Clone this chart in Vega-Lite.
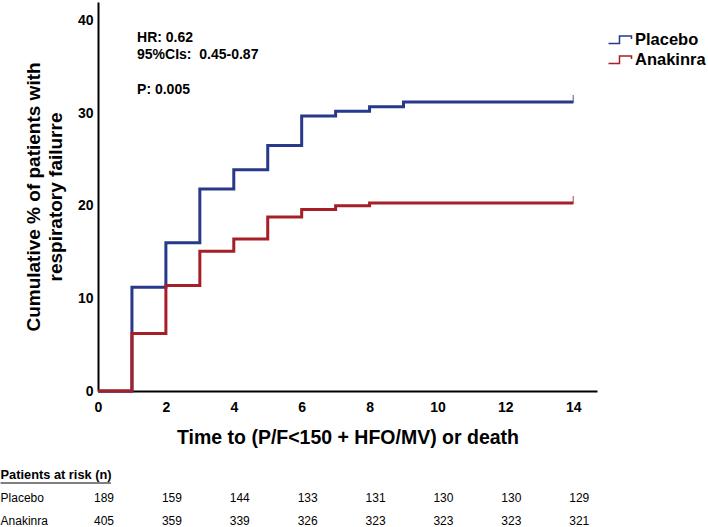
{
  "$schema": "https://vega.github.io/schema/vega-lite/v6.json",
  "padding": {"left": 0, "top": 2, "right": 0, "bottom": 0},
  "config": {
    "font": "Liberation Sans",
    "view": {"stroke": null},
    "concat": {"spacing": 22}
  },
  "datasets": {
    "km": [
      {"arm": "Placebo", "day": 0, "pct": 0},
      {"arm": "Placebo", "day": 1, "pct": 11.2},
      {"arm": "Placebo", "day": 2, "pct": 16.0},
      {"arm": "Placebo", "day": 3, "pct": 21.8},
      {"arm": "Placebo", "day": 4, "pct": 23.9},
      {"arm": "Placebo", "day": 5, "pct": 26.5},
      {"arm": "Placebo", "day": 6, "pct": 29.7},
      {"arm": "Placebo", "day": 7, "pct": 30.2},
      {"arm": "Placebo", "day": 8, "pct": 30.7},
      {"arm": "Placebo", "day": 9, "pct": 31.2},
      {"arm": "Placebo", "day": 14, "pct": 31.2},
      {"arm": "Anakinra", "day": 0, "pct": 0},
      {"arm": "Anakinra", "day": 1, "pct": 6.2},
      {"arm": "Anakinra", "day": 2, "pct": 11.4},
      {"arm": "Anakinra", "day": 3, "pct": 15.1},
      {"arm": "Anakinra", "day": 4, "pct": 16.4},
      {"arm": "Anakinra", "day": 5, "pct": 18.8},
      {"arm": "Anakinra", "day": 6, "pct": 19.6},
      {"arm": "Anakinra", "day": 7, "pct": 20.0},
      {"arm": "Anakinra", "day": 8, "pct": 20.3},
      {"arm": "Anakinra", "day": 14, "pct": 20.3}
    ],
    "risk": [
      {"arm": "Placebo", "day": 0, "n": 189},
      {"arm": "Placebo", "day": 2, "n": 159},
      {"arm": "Placebo", "day": 4, "n": 144},
      {"arm": "Placebo", "day": 6, "n": 133},
      {"arm": "Placebo", "day": 8, "n": 131},
      {"arm": "Placebo", "day": 10, "n": 130},
      {"arm": "Placebo", "day": 12, "n": 130},
      {"arm": "Placebo", "day": 14, "n": 129},
      {"arm": "Anakinra", "day": 0, "n": 405},
      {"arm": "Anakinra", "day": 2, "n": 359},
      {"arm": "Anakinra", "day": 4, "n": 339},
      {"arm": "Anakinra", "day": 6, "n": 326},
      {"arm": "Anakinra", "day": 8, "n": 323},
      {"arm": "Anakinra", "day": 10, "n": 323},
      {"arm": "Anakinra", "day": 12, "n": 323},
      {"arm": "Anakinra", "day": 14, "n": 321}
    ]
  },
  "vconcat": [
    {
      "width": 499,
      "height": 389,
      "layer": [
        {
          "data": {"name": "km"},
          "mark": {"type": "line", "interpolate": "step-after", "strokeWidth": 3},
          "encoding": {
            "x": {
              "field": "day",
              "type": "quantitative",
              "scale": {"domain": [0, 14.7], "nice": false},
              "axis": {
                "values": [0, 2, 4, 6, 8, 10, 12, 14],
                "title": "Time to (P/F<150 + HFO/MV) or death",
                "ticks": false,
                "grid": false,
                "labelFlush": false,
                "domainColor": "black",
                "domainWidth": 2,
                "labelFontSize": 14,
                "labelFontWeight": "bold",
                "labelColor": "black",
                "labelPadding": 9,
                "titleFontSize": 19.5,
                "titleFontWeight": "bold",
                "titleColor": "black",
                "titlePadding": 14
              }
            },
            "y": {
              "field": "pct",
              "type": "quantitative",
              "scale": {"domain": [0, 42], "nice": false},
              "axis": {
                "values": [0, 10, 20, 30, 40],
                "title": ["Cumulative % of patients with", "respiratory failurre"],
                "ticks": false,
                "grid": false,
                "domainColor": "black",
                "domainWidth": 2,
                "labelFontSize": 14,
                "labelFontWeight": "bold",
                "labelColor": "black",
                "labelPadding": 5,
                "titleFontSize": 19,
                "titleFontWeight": "bold",
                "titleColor": "black",
                "titlePadding": 12,
                "titleLineHeight": 22
              }
            },
            "color": {
              "field": "arm",
              "type": "nominal",
              "scale": {"domain": ["Placebo", "Anakinra"], "range": ["#28388a", "#a61f26"]},
              "legend": {
                "title": null,
                "orient": "none",
                "legendX": 512,
                "legendY": 27,
                "symbolType": "M-1.25,0.35H-0.15V-0.4H1.05V-0.1",
                "symbolSize": 400,
                "symbolStrokeWidth": 1.5,
                "labelOffset": 3,
                "labelFontSize": 16.5,
                "labelFontWeight": "bold",
                "labelColor": "black",
                "rowPadding": 0,
                "encode": {
                  "symbols": {"update": {"fill": {"value": "transparent"}, "fillOpacity": {"value": 0}}}
                }
              }
            }
          }
        },
        {
          "data": {"name": "km"},
          "transform": [{"filter": "datum.day === 14"}],
          "mark": {"type": "tick", "orient": "vertical", "size": 8, "thickness": 1.2, "yOffset": -3},
          "encoding": {
            "x": {"field": "day", "type": "quantitative"},
            "y": {"field": "pct", "type": "quantitative"},
            "color": {"field": "arm", "type": "nominal"}
          }
        },
        {
          "data": {"values": [{}]},
          "mark": {
            "type": "text",
            "align": "left",
            "baseline": "top",
            "fontSize": 14,
            "fontWeight": "bold",
            "lineHeight": 17.5,
            "color": "black",
            "text": ["HR: 0.62", "95%CIs:\u00a0 0.45-0.87"]
          },
          "encoding": {
            "x": {"datum": 1.15, "type": "quantitative"},
            "y": {"datum": 38.9, "type": "quantitative"}
          }
        },
        {
          "data": {"values": [{}]},
          "mark": {
            "type": "text",
            "align": "left",
            "baseline": "top",
            "fontSize": 14,
            "fontWeight": "bold",
            "color": "black",
            "text": "P: 0.005"
          },
          "encoding": {
            "x": {"datum": 1.15, "type": "quantitative"},
            "y": {"datum": 33.3, "type": "quantitative"}
          }
        }
      ]
    },
    {
      "width": 499,
      "height": 46,
      "layer": [
        {
          "data": {"name": "risk"},
          "mark": {"type": "text", "fontSize": 12, "dx": 6, "color": "black"},
          "encoding": {
            "x": {
              "field": "day",
              "type": "quantitative",
              "scale": {"domain": [0, 14.7], "nice": false},
              "axis": null
            },
            "y": {
              "field": "arm",
              "type": "nominal",
              "scale": {"type": "point", "domain": ["Patients at risk (n)", "Placebo", "Anakinra"], "padding": 0},
              "axis": null
            },
            "text": {"field": "n", "type": "quantitative"}
          }
        },
        {
          "data": {"name": "risk"},
          "transform": [{"filter": "datum.day === 0"}],
          "mark": {"type": "text", "align": "left", "fontSize": 12, "color": "black"},
          "encoding": {
            "x": {"datum": -2.87, "type": "quantitative"},
            "y": {"field": "arm", "type": "nominal"},
            "text": {"field": "arm", "type": "nominal"}
          }
        },
        {
          "data": {"values": [{}]},
          "mark": {"type": "text", "align": "left", "fontSize": 12.8, "fontWeight": "bold", "color": "black", "text": "Patients at risk (n)"},
          "encoding": {
            "x": {"datum": -2.87, "type": "quantitative"},
            "y": {"datum": "Patients at risk (n)", "type": "nominal"}
          }
        },
        {
          "data": {"values": [{}]},
          "mark": {"type": "rule", "yOffset": 8, "strokeWidth": 1, "color": "black"},
          "encoding": {
            "x": {"datum": -2.87, "type": "quantitative"},
            "x2": {"datum": 0.38},
            "y": {"datum": "Patients at risk (n)", "type": "nominal"}
          }
        }
      ]
    }
  ]
}
